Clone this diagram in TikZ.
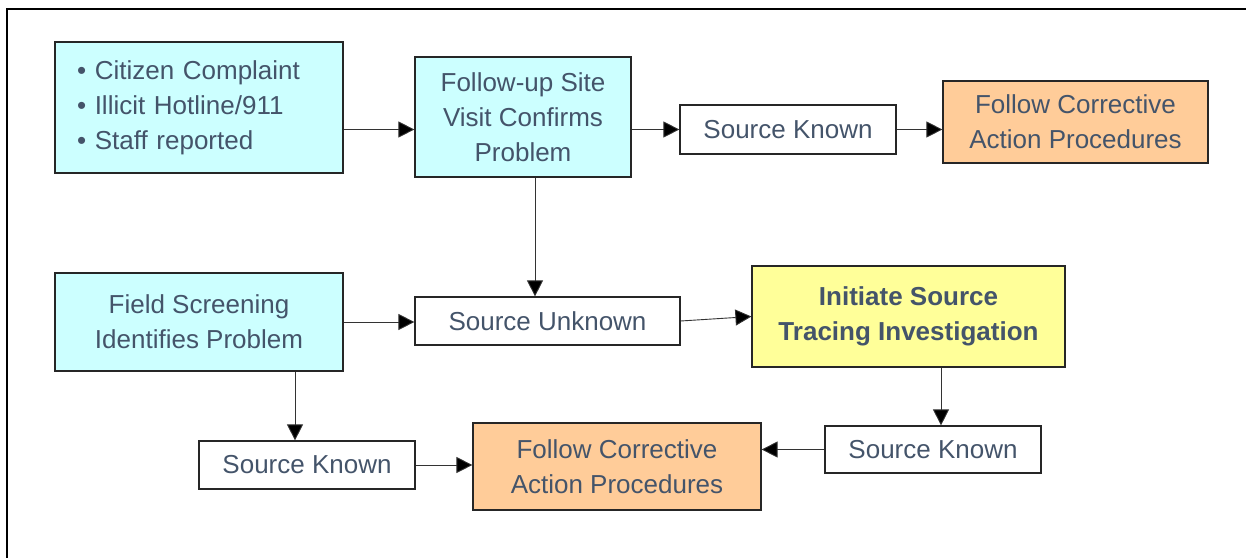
\documentclass[tikz,border=0pt]{standalone}
\usepackage{fontspec}
\setmainfont{Liberation Sans}
\usepackage{tikz}
\usetikzlibrary{arrows.meta}

\definecolor{txtgray}{HTML}{44546A}
\definecolor{boxcyan}{HTML}{CCFFFF}
\definecolor{boxorange}{HTML}{FFCC99}
\definecolor{boxyellow}{HTML}{FFFF99}

\begin{document}
\begin{tikzpicture}[x=1pt,y=-1pt,
        box/.style={rectangle,draw=black!85,line width=1.2pt,inner sep=0pt,
            text=txtgray,font=\fontsize{26}{35}\selectfont,align=center},
        arr/.style={-{Triangle[length=16pt,width=16pt,fill=black]},line width=0.9pt,draw=black!80}]
        \useasboundingbox (0,0) rectangle (1246,557);
        \draw [line width=2pt] (7,580) -- (7,9) -- (1260,9);

        \node(report) at (199,107.5) [box,fill=boxcyan,minimum width=288pt,minimum height=131pt,text width=244pt,align=left]
            {\textbullet\ Citizen Complaint\\ \textbullet\ Illicit Hotline/911\\ \textbullet\ Staff reported};
        \node(visit) at (523,117) [box,fill=boxcyan,minimum width=216pt,minimum height=120pt] {Follow-up Site\\Visit Confirms\\Problem};
        \node(known1) at (788,129.5) [box,minimum width=216pt,minimum height=49pt] {Source Known};
        \node(action1) at (1075.5,122) [box,fill=boxorange,minimum width=265pt,minimum height=82pt] {Follow Corrective\\Action Procedures};

        \node(screen) at (199,322) [box,fill=boxcyan,minimum width=288pt,minimum height=98pt] {Field Screening\\Identifies Problem};
        \node(unknown) at (547.5,321) [box,minimum width=265pt,minimum height=48pt] {Source Unknown};
        \node(trace) at (908.5,316.5) [box,fill=boxyellow,minimum width=313pt,minimum height=101pt] {\textbf{Initiate Source}\\\textbf{Tracing Investigation}};

        \node(known2) at (933,449.5) [box,minimum width=216pt,minimum height=47pt] {Source Known};
        \node(action2) at (617,466.5) [box,fill=boxorange,minimum width=288pt,minimum height=87pt] {Follow Corrective\\Action Procedures};
        \node(known3) at (307,465) [box,minimum width=216pt,minimum height=48pt] {Source Known};

        \draw [arr] (report.east |- known1.west) -- (visit.west |- known1.west);
        \draw [arr] (visit.east |- known1.west) -- (known1.west);
        \draw [arr] (known1.east) -- (action1.west |- known1.east);
        \draw [arr] ([xshift=12pt]visit.south) -- ([xshift=12pt]visit.south |- unknown.north);

        \draw [arr] (screen.east) -- (unknown.west |- screen.east);
        \draw [arr] (unknown.east) -- (trace.west);
        \draw [arr] ([xshift=32.5pt]trace.south) -- ([xshift=32.5pt]trace.south |- known2.north);

        \draw [arr] (known2.west) -- (action2.east |- known2.west);
        \draw [arr] ([xshift=96pt]screen.south) -- ([xshift=96pt]screen.south |- known3.north);
        \draw [arr] (known3.east) -- (action2.west |- known3.east);
    \end{tikzpicture}
\end{document}
